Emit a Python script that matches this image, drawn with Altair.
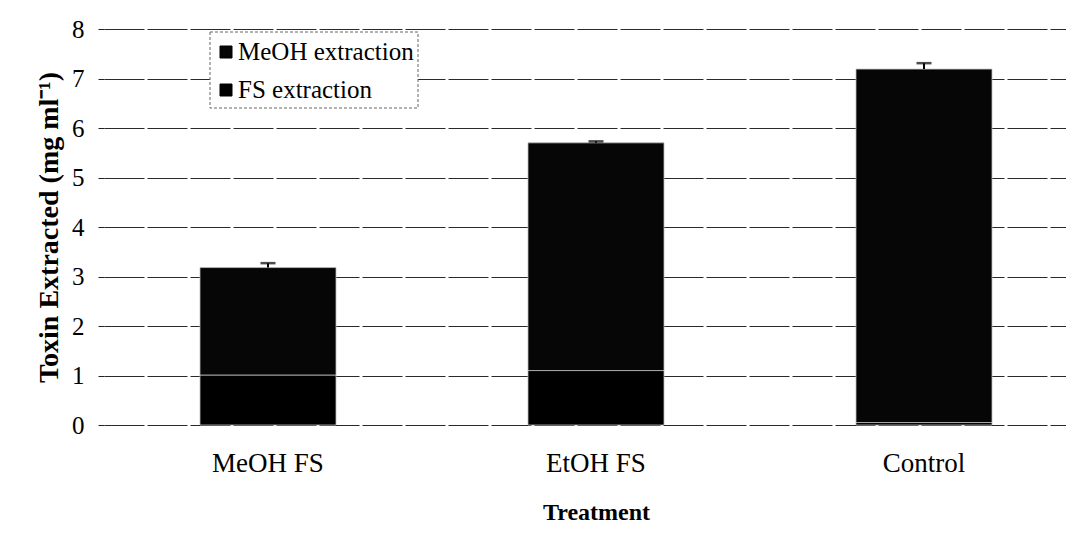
import altair as alt
import pandas as pd

treatments = ["MeOH FS", "EtOH FS", "Control"]
fs_extraction = [1.01, 1.10, 0.05]
meoh_extraction = [2.17, 4.60, 7.14]
error_plus = [0.09, 0.03, 0.12]
series = ["MeOH extraction", "FS extraction"]
series_colors = ["#060606", "#000000"]

rows = []
for t, fs, me in zip(treatments, fs_extraction, meoh_extraction):
    rows.append({"Treatment": t, "Series": "FS extraction", "lo": 0.0, "hi": fs})
    rows.append({"Treatment": t, "Series": "MeOH extraction", "lo": fs, "hi": fs + me})
bars_df = pd.DataFrame(rows)

err_df = pd.DataFrame({
    "Treatment": treatments,
    "top": [f + m for f, m in zip(fs_extraction, meoh_extraction)],
})
err_df["upper"] = err_df["top"] + pd.Series(error_plus)

FONT = "Liberation Serif"

xscale = alt.Scale(domain=treatments, range=[0, 984], paddingInner=0, paddingOuter=0)
yscale = alt.Scale(domain=[0, 8], nice=False)

bars = alt.Chart(bars_df).mark_bar(size=136, stroke="#bdbdbd", strokeWidth=0.8).encode(
    x=alt.X("Treatment:N", scale=xscale, sort=treatments,
            axis=alt.Axis(title="Treatment", labelAngle=0, domain=False, ticks=False,
                          labelFontSize=27, titleFontSize=24,
                          labelPadding=25, titlePadding=24, grid=False)),
    y=alt.Y("lo:Q", scale=yscale,
            axis=alt.Axis(title="Toxin Extracted (mg ml⁻¹)", values=list(range(0, 9)),
                          domain=False, tickSize=6, tickColor="#222", labelPadding=14,
                          labelFontSize=25, titleFontSize=28,
                          titlePadding=8, grid=True, gridColor="#2a2a2a", gridWidth=1,
                          gridDash=[40, 3])),
    y2="hi:Q",
    color=alt.Color("Series:N", scale=alt.Scale(domain=series, range=series_colors),
                    legend=None),
)

rules = alt.Chart(err_df).mark_rule(color="#000", strokeWidth=2).encode(
    x=alt.X("Treatment:N", scale=xscale, sort=treatments),
    y=alt.Y("top:Q", scale=yscale),
    y2="upper:Q",
)
caps = alt.Chart(err_df).mark_tick(color="#000", thickness=2.5, size=15, orient="horizontal").encode(
    x=alt.X("Treatment:N", scale=xscale, sort=treatments),
    y=alt.Y("upper:Q", scale=yscale),
)

# legend drawn as real text in the serif font
legend_box = alt.Chart(pd.DataFrame({"k": [0]})).mark_rect(
    fill="white", stroke="#666", strokeWidth=1, strokeDash=[3, 2]
).encode(x=alt.value(106), x2=alt.value(314), y=alt.value(3), y2=alt.value(79))

legend_layers = [legend_box]
for i, (s, c) in enumerate(zip(series, series_colors)):
    item = pd.DataFrame({"label": [s]})
    legend_layers.append(
        alt.Chart(item).mark_square(size=144, color=c, opacity=1, stroke="#000", strokeWidth=1)
        .encode(x=alt.value(122), y=alt.value(23 + 38 * i))
    )
    legend_layers.append(
        alt.Chart(item).mark_text(font=FONT, fontSize=25, align="left", baseline="middle",
                                  color="#000")
        .encode(text="label:N", x=alt.value(134), y=alt.value(23 + 38 * i))
    )

chart = alt.layer(bars, rules, caps, *legend_layers).properties(
    width=962, height=396,
    autosize=alt.AutoSizeParams(type="none"),
    padding={"left": 96, "top": 21, "right": 0, "bottom": 105},
).configure(
    font=FONT,
    background="white",
    view=alt.ViewConfig(stroke=None),
    axis=alt.AxisConfig(labelFont=FONT, titleFont=FONT, labelColor="#000",
                        titleColor="#000", titleFontWeight="bold"),
)

chart.save("out.html", embed_options={"renderer": "svg", "actions": False})
